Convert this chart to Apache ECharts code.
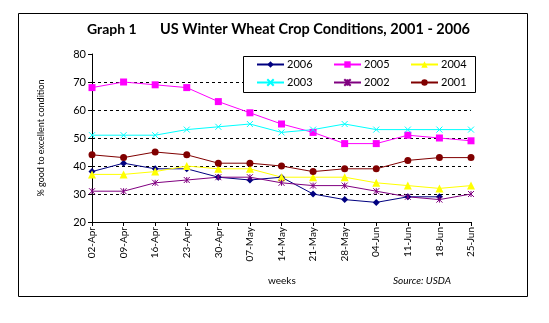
<!DOCTYPE html>
<html>
<head>
<meta charset="utf-8">
<script src="https://cdn.jsdelivr.net/npm/echarts@6/dist/echarts.min.js"></script>
<style>
  html, body { margin: 0; padding: 0; background: #fff; }
  #chart { width: 549px; height: 323px; }
</style>
</head>
<body>
<div id="chart"></div>
<script>
// Weekly winter wheat condition, % rated good to excellent
const weeks = ['02-Apr', '09-Apr', '16-Apr', '23-Apr', '30-Apr', '07-May', '14-May',
               '21-May', '28-May', '04-Jun', '11-Jun', '18-Jun', '25-Jun'];
const y2006 = [38, 41, 39, 39, 36, 35, 36, 30, 28, 27, 29, 29, null];
const y2005 = [68, 70, 69, 68, 63, 59, 55, 52, 48, 48, 51, 50, 49];
const y2004 = [37, 37, 38, 40, 39, 39, 36, 36, 36, 34, 33, 32, 33];
const y2003 = [51, 51, 51, 53, 54, 55, 52, 53, 55, 53, 53, 53, 53];
const y2002 = [31, 31, 34, 35, 36, 36, 34, 33, 33, 31, 29, 28, 30];
const y2001 = [44, 43, 45, 44, 41, 41, 40, 38, 39, 39, 42, 43, 43];
const yTicks = [20, 30, 40, 50, 60, 70, 80];

const FONT = 'Lato';
const xMark = 'path://M0,0L10,10M10,0L0,10';
const starMark = 'path://M0,0L10,10M10,0L0,10M5,0L5,10';

const seriesDefs = [
  { name: '2006', data: y2006, color: '#000080', symbol: 'diamond', size: 7 },
  { name: '2005', data: y2005, color: '#ff00ff', symbol: 'rect', size: 7 },
  { name: '2004', data: y2004, color: '#ffff00', symbol: 'triangle', size: 8 },
  { name: '2003', data: y2003, color: '#00ffff', symbol: xMark, size: 6, stroke: true },
  { name: '2002', data: y2002, color: '#800080', symbol: starMark, size: 6, stroke: true },
  { name: '2001', data: y2001, color: '#800000', symbol: 'circle', size: 7 }
];

const series = seriesDefs.map(d => ({
  name: d.name,
  type: 'line',
  data: d.data,
  symbol: d.symbol,
  symbolSize: d.size,
  showAllSymbol: true,
  lineStyle: { color: d.color, width: 1 },
  itemStyle: d.stroke
    ? { color: d.color, borderColor: d.color, borderWidth: 1 }
    : { color: d.color, borderWidth: 0 },
  emphasis: { disabled: true },
  animation: false
}));

// legend placement: two rows of three entries
const legendPos = [
  [256, 59], [333, 59], [410, 59],
  [256, 77], [333, 77], [410, 77]
];
const legends = seriesDefs.map((d, i) => ({
  data: [d.name],
  left: legendPos[i][0],
  top: legendPos[i][1],
  z: 6,
  padding: 0,
  itemWidth: 27,
  itemHeight: 8,
  itemGap: 0,
  textStyle: { fontFamily: FONT, fontSize: 11, color: '#000', padding: [0, 0, 0, -2] },
  selectedMode: false
}));

const splitColors = yTicks.map((v, i) => (i === 0 || i === yTicks.length - 1) ? 'rgba(0,0,0,0)' : '#000');

const chart = echarts.init(document.getElementById('chart'));
chart.setOption({
  backgroundColor: '#fff',
  animation: false,
  grid: { left: 92, right: 78, top: 54, bottom: 101, containLabel: false },
  legend: legends,
  xAxis: {
    type: 'category',
    data: weeks,
    boundaryGap: false,
    axisLine: { lineStyle: { color: '#000', width: 1 } },
    axisTick: { show: true, length: 4, alignWithLabel: true, lineStyle: { color: '#000' } },
    axisLabel: { rotate: 90, fontFamily: FONT, fontSize: 10, color: '#000', margin: 5, interval: 0 },
    splitLine: { show: false }
  },
  yAxis: {
    type: 'value',
    min: yTicks[0],
    max: yTicks[yTicks.length - 1],
    interval: 10,
    name: '% good to excellent condition',
    nameLocation: 'middle',
    nameGap: 46,
    nameTextStyle: { fontFamily: FONT, fontSize: 9, color: '#000' },
    axisLine: { show: true, lineStyle: { color: '#000', width: 1 } },
    axisTick: { show: true, length: 4, lineStyle: { color: '#000' } },
    axisLabel: { fontFamily: FONT, fontSize: 11, color: '#000', margin: 6 },
    splitLine: { show: true, lineStyle: { color: splitColors, type: [3, 3], width: 1 } }
  },
  series: series,
  graphic: [
    { type: 'rect', z: -1, shape: { x: 18.5, y: 13.5, width: 509, height: 283 },
      style: { fill: 'none', stroke: '#000', lineWidth: 1 } },
    { type: 'rect', z: 3, shape: { x: 243.5, y: 56.5, width: 232, height: 36 },
      style: { fill: '#fff', stroke: '#000', lineWidth: 1 } },
    { type: 'text', left: 87, top: 22, z: 10,
      style: { text: 'Graph 1', fontFamily: FONT, fontSize: 14, fontWeight: 'bold', fill: '#000' } },
    { type: 'text', left: 160, top: 22, z: 10,
      style: { text: 'US Winter Wheat Crop Conditions, 2001 - 2006', fontFamily: FONT, fontSize: 14.5, fontWeight: 'bold', fill: '#000' } },
    { type: 'text', left: 268, top: 276, z: 10,
      style: { text: 'weeks', fontFamily: FONT, fontSize: 10, fill: '#000' } },
    { type: 'text', left: 393, top: 276, z: 10,
      style: { text: 'Source: USDA', fontFamily: FONT, fontSize: 10, fontStyle: 'italic', fill: '#000' } }
  ]
});
</script>
</body>
</html>
